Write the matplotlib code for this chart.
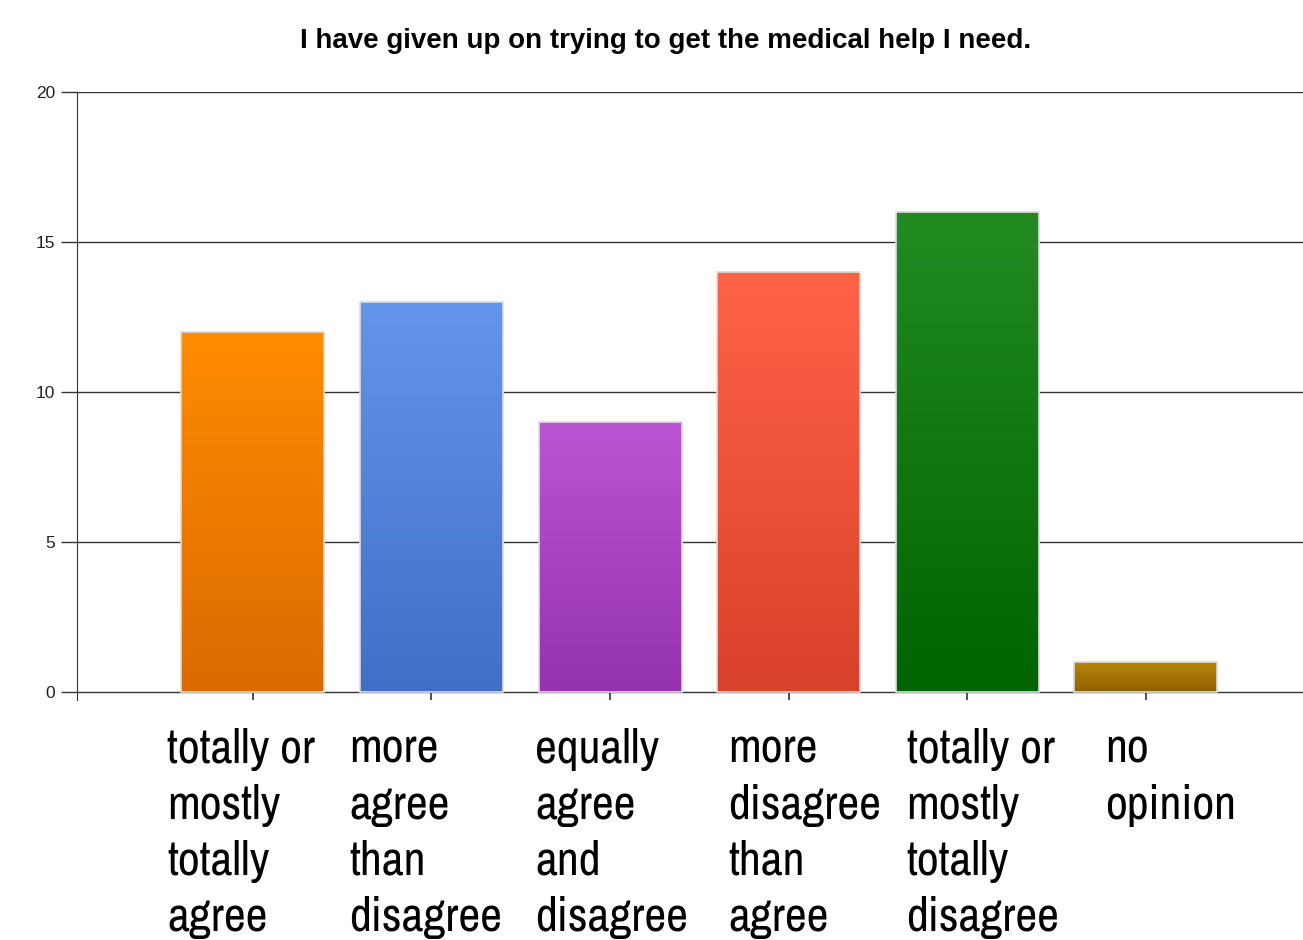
import numpy as np
import matplotlib.pyplot as plt
from matplotlib.colors import LinearSegmentedColormap

title = "I have given up on trying to get the medical help I need."
categories = ["totally or\nmostly\ntotally\nagree",
              "more\nagree\nthan\ndisagree",
              "equally\nagree\nand\ndisagree",
              "more\ndisagree\nthan\nagree",
              "totally or\nmostly\ntotally\ndisagree",
              "no\nopinion"]
counts = [12, 13, 9, 14, 16, 1]
top_colors = ["#ff8c00", "#6495ed", "#ba55d3", "#ff6347", "#228b22", "#b8860b"]
bottom_colors = ["#dc6a00", "#3f6fc6", "#9532b0", "#d8412a", "#006400", "#8f5f00"]
yticks = [0, 5, 10, 15, 20]

# label left edges relative to the tick, in category units
label_shift = [-0.48, -0.46, -0.42, -0.34, -0.34, -0.23]
narrow = ["Archivo Narrow", "Roboto Condensed", "Liberation Sans"]

fig = plt.figure(figsize=(13.03, 9.40), dpi=100)
ax = fig.add_axes([77 / 1303, (940 - 700) / 940, 1 - 77 / 1303, (700 - 92) / 940])

x = np.arange(len(counts))
bars = ax.bar(x, counts, width=0.8, color="none", edgecolor="#dddddd", linewidth=1.2, zorder=3)
for b, c1, c2 in zip(bars, top_colors, bottom_colors):
    cmap = LinearSegmentedColormap.from_list("g", [c2, c1])
    grad = np.linspace(0, 1, 256).reshape(-1, 1)
    x0, y0 = b.get_x(), b.get_y()
    im = ax.imshow(grad, cmap=cmap, origin="lower", aspect="auto",
                   extent=[x0, x0 + b.get_width(), y0, y0 + b.get_height()], zorder=2)
    im.set_clip_path(b)

ax.set_xlim(-0.985, 5.88)
ax.set_ylim(-0.27, 20)
ax.set_yticks(yticks)
ax.set_yticklabels([str(v) for v in yticks], fontsize=12.5, family="Liberation Sans",
                   color="#222222")
ax.grid(axis="y", color="#333333", linewidth=1, zorder=1)
ax.set_axisbelow(True)
for s in ["top", "right", "bottom"]:
    ax.spines[s].set_visible(False)
ax.spines["left"].set_color("#333333")
ax.tick_params(axis="y", length=11.5, width=1, color="#333333", pad=4)
ax.set_xticks(x)
ax.set_xticklabels([])
ax.tick_params(axis="x", direction="in", length=5.8, width=1.2, color="#333333")

for i, lab in enumerate(categories):
    ax.text(i + label_shift[i], -1.2, lab, ha="left", va="top", fontsize=34.5,
            family=narrow, linespacing=1.37, clip_on=False)

fig.text(666 / 1303, 1 - 41 / 940, title, ha="center", va="center",
         fontsize=20, fontweight="bold", family="Liberation Sans")

fig.savefig("out.png", dpi=100)
